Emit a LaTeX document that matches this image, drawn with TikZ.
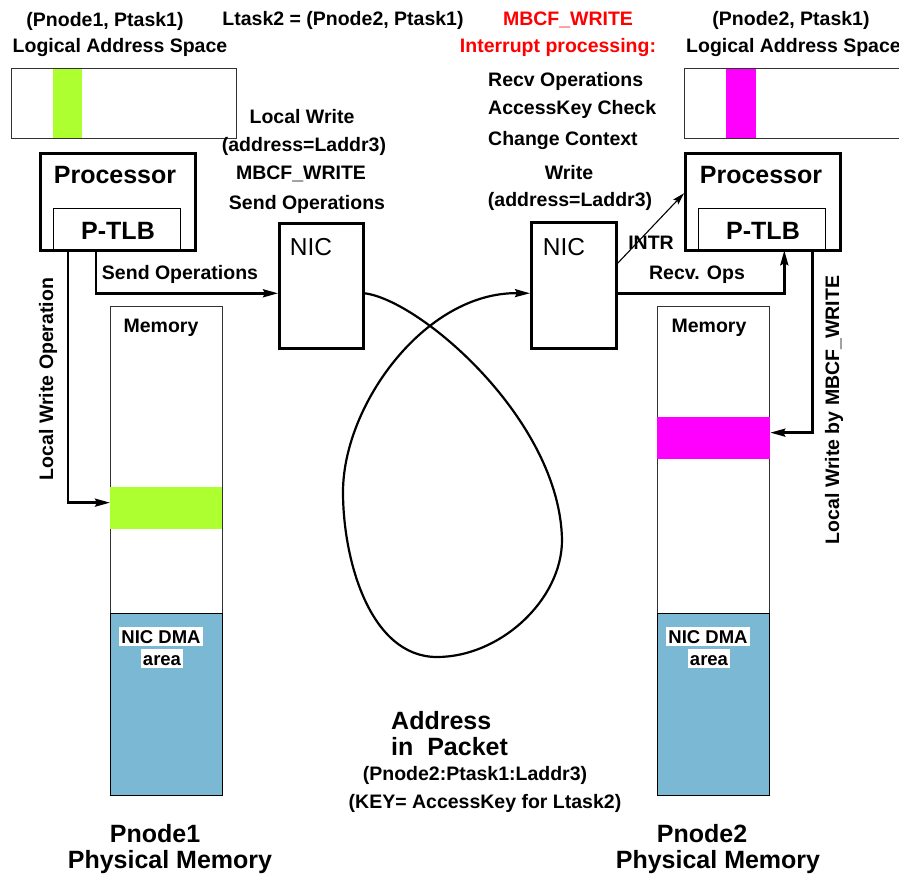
\documentclass[tikz,border=0pt]{standalone}
\usepackage{fontspec}
\setmainfont{Liberation Sans}
\usetikzlibrary{arrows.meta}
\definecolor{dmablue}{RGB}{122,184,212}
\definecolor{lgreen}{RGB}{173,255,47}
\definecolor{pmagenta}{RGB}{255,0,255}
\definecolor{thingray}{RGB}{50,50,50}
\begin{document}
\begin{tikzpicture}[x=1pt,y=-1pt,
  thickbox/.style={draw=black,line width=2.6pt,inner sep=0pt,anchor=north west},
  thinbox/.style={draw=thingray,line width=1.3pt,inner sep=0pt,anchor=north west},
  tlbbox/.style={draw=black,line width=1.3pt,inner sep=0pt,anchor=north west},
  dmabox/.style={draw=black,line width=1.3pt,fill=dmablue,inner sep=0pt,anchor=north west},
  lab/.style={font=\fontsize{19.5}{23}\selectfont\bfseries,inner sep=0pt,anchor=base},
  biglab/.style={font=\fontsize{25}{30}\selectfont\bfseries,inner sep=0pt,anchor=base},
  niclab/.style={font=\fontsize{24.5}{29}\selectfont,inner sep=0pt,anchor=base},
  dmalab/.style={font=\fontsize{18.5}{22}\selectfont\bfseries,fill=white,inner xsep=2pt,inner ysep=2pt,text height=14pt,text depth=1pt},
  conn/.style={line width=2.5pt,-{Stealth[length=15pt,width=8pt,inset=2pt]}},
  loopconn/.style={line width=2.2pt,-{Stealth[length=15pt,width=8pt,inset=2pt]}},
  thinconn/.style={line width=1.1pt,-{Stealth[length=12pt,width=7pt,inset=2pt]}},
]
\clip (0,0) rectangle (899,874);
\fill[white] (0,0) rectangle (899,874);

% ---------- logical address spaces ----------
\fill[lgreen] (53,68) rectangle (82,138);
\node[thinbox,minimum width=225pt,minimum height=70pt] (las1) at (11,68) {};
\fill[pmagenta] (726,68) rectangle (756,138);
\node[thinbox,minimum width=225pt,minimum height=70pt] (las2) at (684,68) {};

% ---------- processors ----------
\node[tlbbox,minimum width=127pt,minimum height=41pt] (ptlb1) at (53,208) {};
\node[thickbox,minimum width=155pt,minimum height=97pt] (proc1) at (39,152) {};
\node[tlbbox,minimum width=127pt,minimum height=41pt] (ptlb2) at (698,208) {};
\node[thickbox,minimum width=155pt,minimum height=97pt] (proc2) at (684,152) {};

\node[biglab] (proc1t) at (115,184) {Processor};
\node[biglab] (ptlb1t) at (118,240) {P-TLB};
\node[biglab] (proc2t) at (761,184) {Processor};
\node[biglab] (ptlb2t) at (763,240) {P-TLB};

% ---------- NICs ----------
\node[thickbox,minimum width=84pt,minimum height=125pt] (nic1) at (278,222) {};
\node[thickbox,minimum width=85pt,minimum height=126pt] (nic2) at (530,221) {};
\node[niclab] (nic1t) at (311,256) {NIC};
\node[niclab] (nic2t) at (564,256) {NIC};

% ---------- memories ----------
\node[thinbox,minimum width=112pt,minimum height=489pt] (mem1) at (110,306) {};
\fill[lgreen] (110,487) rectangle (222,529);
\node[dmabox,minimum width=112pt,minimum height=182pt] (dma1) at (110,613) {};
\node[thinbox,minimum width=112pt,minimum height=489pt] (mem2) at (657,306) {};
\fill[pmagenta] (657,417) rectangle (770,459);
\node[dmabox,minimum width=112pt,minimum height=182pt] (dma2) at (657,613) {};

\node[lab] (mem1t) at (161,333) {Memory};
\node[lab] (mem2t) at (709,333) {Memory};
\node[dmalab] (dma1a) at (161,636.5) {NIC DMA};
\node[dmalab] (dma1b) at (162,658.5) {area};
\node[dmalab] (dma2a) at (708,636.5) {NIC DMA};
\node[dmalab] (dma2b) at (709,658.5) {area};

% ---------- top labels ----------
\node[lab] (t1) at (105,27) {(Pnode1, Ptask1)};
\node[lab] (t2) at (120,53) {Logical Address Space};
\node[lab] (t3) at (343,26) {Ltask2 = (Pnode2, Ptask1)};
\node[lab,text=red] (t4) at (568,26) {MBCF\_WRITE};
\node[lab,text=red] (t5) at (558,53) {Interrupt processing:};
\node[lab] (t6) at (791,26) {(Pnode2, Ptask1)};
\node[lab,anchor=base west] (t7) at (686,53) {Logical Address Space};

\node[lab,anchor=base west] (r1) at (488,87) {Recv Operations};
\node[lab,anchor=base west] (r2) at (488,115) {AccessKey Check};
\node[lab,anchor=base west] (r3) at (488,146) {Change Context};
\node[lab] (r4) at (569,180) {Write};
\node[lab] (r5) at (570,207) {(address=Laddr3)};

\node[lab] (l1) at (302,124) {Local Write};
\node[lab] (l2) at (304,152) {(address=Laddr3)};
\node[lab] (l3) at (301,180) {MBCF\_WRITE};
\node[lab] (l4) at (307,210) {Send Operations};

% ---------- connectors ----------
\draw[conn] ([xshift=43pt]ptlb1.south west) |- ([yshift=-7.5pt]nic1.west);
\node[lab] (sendlab) at (180,280) {Send Operations};

\draw[conn] ([xshift=15pt]ptlb1.south west) |- ([yshift=48.5pt]mem1.west);
\node[lab,rotate=90,anchor=center] (lwo) at (48,379) {Local Write Operation};

\draw[conn] ([yshift=-8pt]nic2.east) -| ([xshift=-42pt]ptlb2.south east);
\node[lab] (recvlab) at (697,280) {Recv. Ops};

\draw[conn] ([xshift=-14pt]ptlb2.south east) |- ([yshift=118.5pt]mem2.east);
\node[lab,rotate=90,anchor=center] (lwm) at (834,410) {Local Write by MBCF\_WRITE};

\draw[thinconn] ([yshift=22pt]nic2.east) -- ([yshift=8.5pt]proc2.west);
\node[lab] (intr) at (651,250) {INTR};

\draw[loopconn] ([yshift=-7.5pt]nic1.east)
  .. controls (420,300) and (560,420) .. (562,540)
  .. controls (562,600) and (500,657) .. (437,657)
  .. controls (370,657) and (343,560) .. (343,492)
  .. controls (343,405) and (425,292) .. ([yshift=-8pt]nic2.west);

% ---------- bottom labels ----------
\node[biglab,anchor=base west] (p1) at (391,729) {Address};
\node[biglab,anchor=base west] (p2) at (391,755) {in\ \ Packet};
\node[lab] (p3) at (475,780) {(Pnode2:Ptask1:Laddr3)};
\node[lab] (p4) at (485,808) {(KEY= AccessKey for Ltask2)};

\node[biglab] (b1) at (155,842) {Pnode1};
\node[biglab] (b2) at (170,868) {Physical Memory};
\node[biglab] (b3) at (702,842) {Pnode2};
\node[biglab] (b4) at (718,868) {Physical Memory};
\end{tikzpicture}
\end{document}
